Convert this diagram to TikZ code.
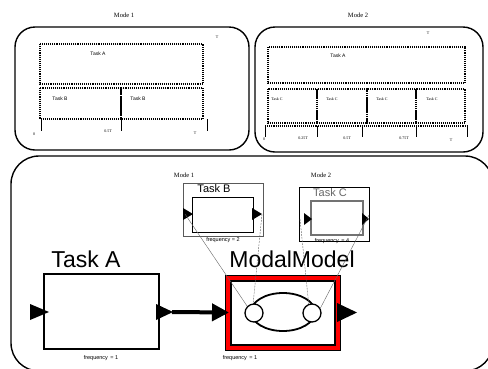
\documentclass[tikz,border=0pt]{standalone}
\usepackage{fontspec}
\setmainfont{Liberation Serif}
\setsansfont{Liberation Sans}
\usetikzlibrary{arrows.meta}
\begin{document}
\begin{tikzpicture}[x=1pt,y=-1pt,
  panel/.style={draw=black,line width=1.4pt,rounded corners=20pt},
  slot/.style={draw=black,line width=1.1pt,dash pattern=on 1.1pt off 1pt},
  tick/.style={draw=black,line width=0.7pt},
  tiny/.style={font=\fontsize{4}{4}\selectfont,inner sep=0pt},
  small/.style={font=\sffamily\fontsize{5}{5}\selectfont,inner sep=0pt},
  modelabel/.style={font=\fontsize{6.5}{6.5}\selectfont,inner sep=0pt},
  freq/.style={font=\sffamily\fontsize{5.5}{5.5}\selectfont,inner sep=0pt},
  bigname/.style={font=\sffamily\fontsize{23}{23}\selectfont,inner sep=0pt},
  midname/.style={font=\sffamily\fontsize{11}{11}\selectfont,inner sep=0pt},
  box/.style={draw=black,line width=1.5pt,minimum width=#1,inner sep=0pt,outer sep=0pt},
  link/.style={draw=black!60,line width=0.4pt},
  dlink/.style={draw=black!60,line width=0.4pt,dash pattern=on 2pt off 1pt},
  port/.style={fill=black},
]
\useasboundingbox (0,0) rectangle (488,368);
\begin{scope}
\clip (0,0) rectangle (488,368);

% ---------- Mode 1 schedule ----------
\node[modelabel] (m1title) at (124,15) {Mode 1};
\draw[panel] (15,27) rectangle (249,150);
\node[tiny] (m1T) at (217,37) {T};
\draw[slot] (40,44) rectangle (203,84);
\draw[slot] (40,88) rectangle (121,119);
\draw[slot] (121,88) rectangle (203,119);
\node[small] (m1a) at (98,54) {Task A};
\node[small] (m1b1) at (60,99) {Task B};
\node[small] (m1b2) at (138,99) {Task B};
\foreach \x in {41,121,207} \draw[tick] (\x,119) -- (\x,131);
\node[tiny] (m1t0) at (34,134) {0};
\node[tiny] (m1t1) at (108,131) {0.5T};
\node[tiny] (m1t2) at (195,133) {T};

% ---------- Mode 2 schedule ----------
\node[modelabel] (m2title) at (358,15) {Mode 2};
\draw[panel] (255,27) rectangle (483,152);
\node[tiny] (m2T) at (428,33) {T};
\draw[slot] (268,47) rectangle (465,83);
\foreach \a/\b in {268/317,317/367,367/416,416/465}
  \draw[slot] (\a,89) rectangle (\b,123);
\node[small] (m2a) at (338,56) {Task A};
\foreach \x [count=\i] in {277,332,382,432}
  \node[tiny] (m2c\i) at (\x,99) {Task C};
\draw[slot] (265,126) -- (467,126);
\foreach \x in {265,317,362,416,467} \draw[tick] (\x,126) -- (\x,137);
\node[tiny] (m2t0) at (264,139) {0};
\node[tiny] (m2t1) at (303,138) {0.25T};
\node[tiny] (m2t2) at (347,138) {0.5T};
\node[tiny] (m2t3) at (404,138) {0.75T};
\node[tiny] (m2t4) at (451,140) {T};

% ---------- composite model ----------
\draw[draw=black,line width=1.4pt,rounded corners=28pt] (11,156) rectangle (493,371);

% Task A actor
\node[bigname] (taskAname) at (86,259) {Task A};
\node[box=115pt,minimum height=75pt] (taskA) at (101.5,311.5) {};
\fill[port] (30,304) -- (49,312) -- (30,320) -- cycle;
\fill[port] (156,304) -- (173,312) -- (156,320) -- cycle;
\coordinate (aout) at (172,312);

% ModalModel actor
\node[bigname] (mmname) at (292,259) {ModalModel};
\node[draw=black,fill=red,line width=0.8pt,minimum width=115pt,minimum height=75pt,inner sep=0pt] (mm) at (282.5,312.5) {};
\node[draw=black,fill=white,line width=1.2pt,minimum width=104pt,minimum height=64pt,inner sep=0pt] (mmin) at (283,313) {};
\fill[port] (337,303) -- (357,312.5) -- (337,322) -- cycle;
\draw[line width=4pt,-{Triangle[length=17pt,width=17pt]}] (aout) -- (mm.west -| 229,0);

% Mode 1 refinement
\node[modelabel] (r1title) at (184,175) {Mode 1};
\draw[draw=black!65,line width=0.9pt] (183,183) rectangle (263,236);
\node[draw=black,line width=1pt,minimum width=61pt,minimum height=35pt,inner sep=0pt] (taskB) at (222.5,214.5) {};
\node[midname] (taskBname) at (214,189) {Task B};
\fill[port] (183,208) -- (193,214) -- (183,220) -- cycle;
\fill[port] (252,208) -- (262,214) -- (252,220) -- cycle;
\coordinate (bin) at (185,214);
\coordinate (bout) at (262,214);
\node[freq] (fb) at (223,240) {frequency = 2};

% Mode 2 refinement
\node[modelabel] (r2title) at (321,175) {Mode 2};
\draw[draw=black,line width=0.8pt] (299,187) rectangle (369,241);
\node[draw=black!55,line width=1.2pt,minimum width=52pt,minimum height=34pt,inner sep=0pt] (taskC) at (337,218) {};
\node[midname,text=black!60] (taskCname) at (330,193) {Task C};
\fill[port] (304,213) -- (312,219) -- (304,225) -- cycle;
\fill[port] (362,213) -- (369,219) -- (362,225) -- cycle;
\coordinate (cin) at (300,219);
\coordinate (cout) at (369,215);
\node[freq] (fc) at (332,241) {frequency \,= 4};

% state machine inside the ModalModel
\draw[line width=1.8pt] (283,312) ellipse [x radius=32pt,y radius=19pt];
\node[circle,draw=black,fill=white,line width=1.3pt,minimum size=18pt,inner sep=0pt] (s1) at (254,313) {};
\node[circle,draw=black,fill=white,line width=1.3pt,minimum size=18pt,inner sep=0pt] (s2) at (312,313) {};

% refinement links
\draw[link] (bin) -- (s1.135);
\draw[dlink] (bout) -- (s1.95);
\draw[dlink] (cin) -- (s2.110);
\draw[link] (cout) -- (s2.30);

\node[freq] (fa) at (101,358) {frequency \,= 1};
\node[freq] (fm) at (240,358) {frequency \,= 1};
\end{scope}
\end{tikzpicture}
\end{document}
